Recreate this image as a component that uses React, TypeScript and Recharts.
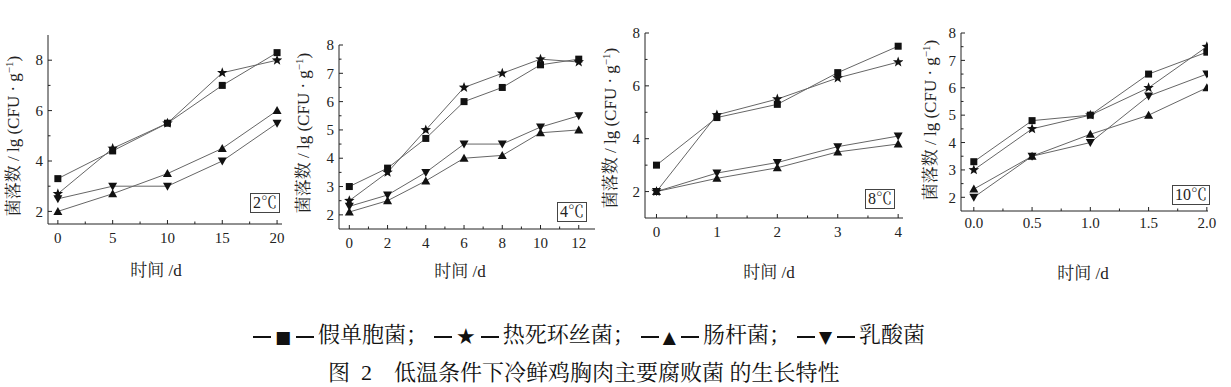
import React from "react";
import { LineChart, Line, XAxis, YAxis } from "recharts";

// series order: 假单胞菌 ■, 热死环丝菌 ★, 肠杆菌 ▲, 乳酸菌 ▼
const seriesKeys = ["pseudo", "brocho", "entero", "lactic"];
const seriesShapes = ["square", "star", "up", "down"];
const legendNames = ["假单胞菌", "热死环丝菌", "肠杆菌", "乳酸菌"];
const legendSymbols = ["■", "★", "▲", "▼"];

// 2℃
const days2 = [0, 5, 10, 15, 20];
const pseudo2 = [3.3, 4.4, 5.5, 7.0, 8.3];
const brocho2 = [2.7, 4.5, 5.5, 7.5, 8.0];
const entero2 = [2.0, 2.7, 3.5, 4.5, 6.0];
const lactic2 = [2.5, 3.0, 3.0, 4.0, 5.5];
const xMajor2 = [0, 5, 10, 15, 20];
const xMinor2 = [2.5, 7.5, 12.5, 17.5];
const yMajor2 = [2, 4, 6, 8];
const yMinor2 = [3, 5, 7];

// 4℃
const days4 = [0, 2, 4, 6, 8, 10, 12];
const pseudo4 = [3.0, 3.65, 4.7, 6.0, 6.5, 7.3, 7.5];
const brocho4 = [2.5, 3.5, 5.0, 6.5, 7.0, 7.5, 7.4];
const entero4 = [2.1, 2.5, 3.2, 4.0, 4.1, 4.9, 5.0];
const lactic4 = [2.3, 2.7, 3.5, 4.5, 4.5, 5.1, 5.5];
const xMajor4 = [0, 2, 4, 6, 8, 10, 12];
const xMinor4 = [1, 3, 5, 7, 9, 11];
const yMajor4 = [2, 3, 4, 5, 6, 7, 8];
const yMinor4 = [2.5, 3.5, 4.5, 5.5, 6.5, 7.5];

// 8℃
const days8 = [0, 1, 2, 3, 4];
const pseudo8 = [3.0, 4.8, 5.3, 6.5, 7.5];
const brocho8 = [2.0, 4.9, 5.5, 6.3, 6.9];
const entero8 = [2.0, 2.5, 2.9, 3.5, 3.8];
const lactic8 = [2.0, 2.7, 3.1, 3.7, 4.1];
const xMajor8 = [0, 1, 2, 3, 4];
const xMinor8 = [0.5, 1.5, 2.5, 3.5];
const yMajor8 = [2, 4, 6, 8];
const yMinor8 = [3, 5, 7];

// 10℃
const days10 = [0, 0.5, 1.0, 1.5, 2.0];
const pseudo10 = [3.3, 4.8, 5.0, 6.5, 7.3];
const brocho10 = [3.0, 4.5, 5.0, 6.0, 7.5];
const entero10 = [2.3, 3.5, 4.3, 5.0, 6.0];
const lactic10 = [2.0, 3.5, 4.0, 5.7, 6.5];
const xMajor10 = [0, 0.5, 1.0, 1.5, 2.0];
const xMinor10 = [0.25, 0.75, 1.25, 1.75];
const yMajor10 = [2, 3, 4, 5, 6, 7, 8];
const yMinor10 = [2.5, 3.5, 4.5, 5.5, 6.5, 7.5];

const buildRows = (days: number[], cols: number[][]) =>
  days.map((d, i) => {
    const row: Record<string, number> = { d };
    seriesKeys.forEach((k, j) => (row[k] = cols[j][i]));
    return row;
  });

const panels = [
  {
    temp: "2℃",
    rows: buildRows(days2, [pseudo2, brocho2, entero2, lactic2]),
    xMajor: xMajor2, xMinor: xMinor2, yMajor: yMajor2, yMinor: yMinor2,
    xDomain: [-0.9, 20.45], yDomain: [1.5, 9], xFmt: (v: number) => String(v),
    rect: { left: 48, top: 35, right: 282, bottom: 224 },
    xLabOff: 14, yLabel: { x: 13, y: 136 }, xLabel: { x: 156, y: 270 },
    box: { left: 250, top: 193 },
  },
  {
    temp: "4℃",
    rows: buildRows(days4, [pseudo4, brocho4, entero4, lactic4]),
    xMajor: xMajor4, xMinor: xMinor4, yMajor: yMajor4, yMinor: yMinor4,
    xDomain: [-0.54, 12.85], yDomain: [1.5, 8], xFmt: (v: number) => String(v),
    rect: { left: 339, top: 45, right: 595, bottom: 229 },
    xLabOff: 14, yLabel: { x: 303, y: 133 }, xLabel: { x: 460, y: 271 },
    box: { left: 557, top: 202 },
  },
  {
    temp: "8℃",
    rows: buildRows(days8, [pseudo8, brocho8, entero8, lactic8]),
    xMajor: xMajor8, xMinor: xMinor8, yMajor: yMajor8, yMinor: yMinor8,
    xDomain: [-0.19, 4.08], yDomain: [1, 8], xFmt: (v: number) => String(v),
    rect: { left: 645, top: 33, right: 903, bottom: 218 },
    xLabOff: 14, yLabel: { x: 610, y: 128 }, xLabel: { x: 769, y: 272 },
    box: { left: 865, top: 189 },
  },
  {
    temp: "10℃",
    rows: buildRows(days10, [pseudo10, brocho10, entero10, lactic10]),
    xMajor: xMajor10, xMinor: xMinor10, yMajor: yMajor10, yMinor: yMinor10,
    xDomain: [-0.11, 2.01], yDomain: [1.5, 8], xFmt: (v: number) => v.toFixed(1),
    rect: { left: 961, top: 33, right: 1208, bottom: 211 },
    xLabOff: 12, yLabel: { x: 930, y: 120 }, xLabel: { x: 1083, y: 273 },
    box: { left: 1172, top: 185 },
  },
];

const SERIF = '"Liberation Serif", "Times New Roman", "Noto Serif CJK SC", "Noto Sans CJK SC", serif';
const AXIS = "#222";

function Marker({ cx, cy, shape }: { cx: number; cy: number; shape: string }) {
  const c = "#111";
  if (shape === "square") return <rect x={cx - 3.5} y={cy - 3.5} width={7} height={7} fill={c} />;
  if (shape === "up")
    return <polygon points={`${cx},${cy - 4.5} ${cx + 4.5},${cy + 3.5} ${cx - 4.5},${cy + 3.5}`} fill={c} />;
  if (shape === "down")
    return <polygon points={`${cx},${cy + 4.5} ${cx + 4.5},${cy - 3.5} ${cx - 4.5},${cy - 3.5}`} fill={c} />;
  const pts: string[] = [];
  for (let i = 0; i < 10; i++) {
    const r = i % 2 === 0 ? 5.5 : 2.3;
    const a = -Math.PI / 2 + (i * Math.PI) / 5;
    pts.push(`${cx + r * Math.cos(a)},${cy + r * Math.sin(a)}`);
  }
  return <polygon points={pts.join(" ")} fill={c} />;
}

const makeDot = (shape: string) => (p: any) => {
  const { cx, cy, index } = p;
  if (cx == null || cy == null) return <g key={`${shape}-${index}`} />;
  return <Marker key={`${shape}-${index}`} cx={cx} cy={cy} shape={shape} />;
};

function Panel({ cfg }: { cfg: (typeof panels)[number] }) {
  const ML = 60, MT = 10, MR = 10, MB = 40;
  const { rect } = cfg;
  const W = rect.right - rect.left + ML + MR;
  const H = rect.bottom - rect.top + MT + MB;
  const xTicks = [...cfg.xMajor, ...cfg.xMinor].sort((a, b) => a - b);
  const yTicks = [...cfg.yMajor, ...cfg.yMinor].sort((a, b) => a - b);

  const xTick = (p: any) => {
    const v = p.payload.value;
    const major = cfg.xMajor.includes(v);
    return (
      <g>
        <line x1={p.x} x2={p.x} y1={p.y} y2={p.y - (major ? 4 : 2.5)} stroke={AXIS} />
        {major && (
          <text x={p.x} y={p.y + cfg.xLabOff} dy="0.35em" textAnchor="middle" fontSize={15} fontFamily={SERIF} fill="#222">
            {cfg.xFmt(v)}
          </text>
        )}
      </g>
    );
  };
  const yTick = (p: any) => {
    const v = p.payload.value;
    const major = cfg.yMajor.includes(v);
    return (
      <g>
        <line x1={p.x} x2={p.x + (major ? 4 : 2.5)} y1={p.y} y2={p.y} stroke={AXIS} />
        {major && (
          <text x={p.x - 5} y={p.y} dy="0.35em" textAnchor="end" fontSize={15} fontFamily={SERIF} fill="#222">
            {v}
          </text>
        )}
      </g>
    );
  };

  return (
    <div style={{ position: "absolute", left: rect.left - ML, top: rect.top - MT }}>
      <LineChart width={W} height={H} data={cfg.rows} margin={{ top: MT, right: MR, left: 0, bottom: 0 }}>
        <XAxis
          type="number"
          dataKey="d"
          domain={cfg.xDomain}
          ticks={xTicks}
          allowDataOverflow
          interval={0}
          height={MB}
          tickSize={0}
          tickMargin={0}
          tickLine={false}
          tick={xTick}
          axisLine={{ stroke: AXIS }}
        />
        <YAxis
          type="number"
          domain={cfg.yDomain}
          ticks={yTicks}
          allowDataOverflow
          interval={0}
          width={ML}
          tickSize={0}
          tickMargin={0}
          tickLine={false}
          tick={yTick}
          axisLine={{ stroke: AXIS }}
        />
        {seriesKeys.map((k, i) => (
          <Line
            key={k}
            dataKey={k}
            stroke="#666"
            strokeWidth={1}
            dot={makeDot(seriesShapes[i])}
            activeDot={false}
            isAnimationActive={false}
          />
        ))}
      </LineChart>
    </div>
  );
}

const dash = (ml: number, mr: number) => (
  <span
    style={{
      display: "inline-block",
      width: 18,
      height: 2,
      background: "#111",
      verticalAlign: "middle",
      marginLeft: ml,
      marginRight: mr,
    }}
  />
);

export default function App() {
  return (
    <div style={{ position: "relative", width: 1231, height: 387, background: "#fff", overflow: "hidden" }}>
      <style>{"body{margin:0}"}</style>
      {panels.map((p) => (
        <React.Fragment key={p.temp}>
          <Panel cfg={p} />
          <div
            style={{
              position: "absolute",
              left: p.yLabel.x,
              top: p.yLabel.y,
              transform: "translate(-50%, -50%) rotate(-90deg)",
              whiteSpace: "nowrap",
              fontFamily: SERIF,
              fontSize: 17,
              color: "#222",
              lineHeight: 1,
            }}
          >
            菌落数 / lg (CFU · g<span style={{ fontSize: 11, verticalAlign: "super" }}>−1</span>)
          </div>
          <div
            style={{
              position: "absolute",
              left: p.xLabel.x,
              top: p.xLabel.y,
              transform: "translate(-50%, -50%)",
              whiteSpace: "nowrap",
              fontFamily: SERIF,
              fontSize: 17,
              color: "#222",
              lineHeight: 1,
            }}
          >
            时间 /d
          </div>
          <div
            style={{
              position: "absolute",
              left: p.box.left,
              top: p.box.top,
              border: "1px solid #444",
              padding: "0 2px",
              fontFamily: SERIF,
              fontSize: 16,
              lineHeight: "18px",
              color: "#222",
            }}
          >
            {p.temp}
          </div>
        </React.Fragment>
      ))}
      <div
        style={{
          position: "absolute",
          left: 251,
          top: 322,
          fontFamily: SERIF,
          fontSize: 22,
          lineHeight: "26px",
          color: "#111",
          whiteSpace: "nowrap",
        }}
      >
        {legendNames.map((n, i) => (
          <span key={n} style={{ marginRight: i < legendNames.length - 1 ? 4 : 0 }}>
            {dash(2, 4)}
            <span
              style={{
                fontFamily: '"DejaVu Sans", sans-serif',
                fontSize: legendSymbols[i] === "★" ? 22 : 17,
                verticalAlign: "middle",
              }}
            >
              {legendSymbols[i]}
            </span>
            {dash(5, 4)}
            {n}
            {i < legendNames.length - 1 ? "；" : ""}
          </span>
        ))}
      </div>
      <div
        style={{
          position: "absolute",
          left: 328,
          top: 360,
          fontFamily: SERIF,
          fontSize: 22,
          lineHeight: "26px",
          color: "#111",
          whiteSpace: "pre",
        }}
      >
        {"图  2    低温条件下冷鲜鸡胸肉主要腐败菌 的生长特性"}
      </div>
    </div>
  );
}
